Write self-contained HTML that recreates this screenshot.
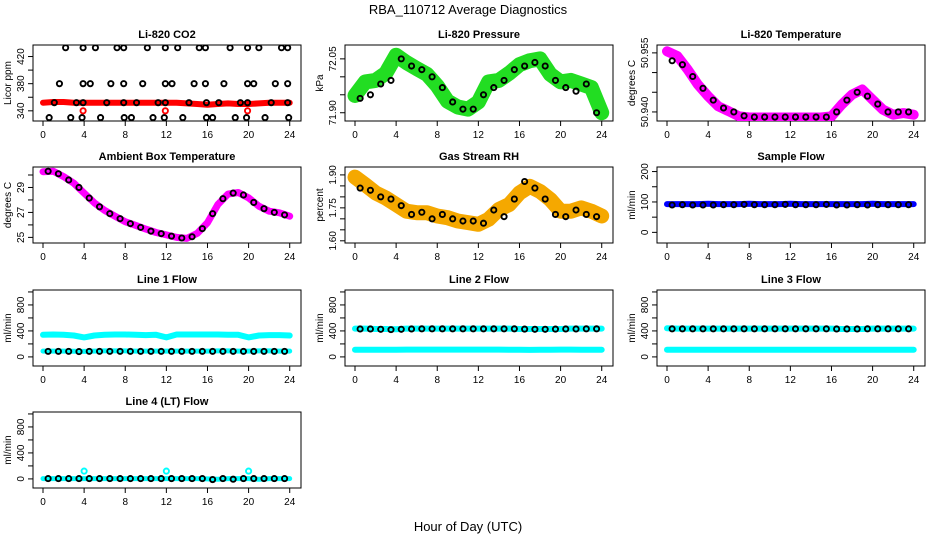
<!DOCTYPE html>
<html><head><meta charset="utf-8"><style>
body{margin:0;background:#fff}
svg{display:block;font-family:"Liberation Sans",sans-serif}
</style></head><body>
<svg id="c" width="936" height="540" viewBox="0 0 936 540">
<text x="468" y="14" text-anchor="middle" font-size="13">RBA_110712  Average Diagnostics</text>
<text x="468" y="531" text-anchor="middle" font-size="13">Hour of Day (UTC)</text>
</svg>
<script>
const hours = [0,1,2,3,4,5,6,7,8,9,10,11,12,13,14,15,16,17,18,19,20,21,22,23,24];
const halfHours = [0.5,1.5,2.5,3.5,4.5,5.5,6.5,7.5,8.5,9.5,10.5,11.5,12.5,13.5,14.5,15.5,16.5,17.5,18.5,19.5,20.5,21.5,22.5,23.5];
const xTicks = [0,4,8,12,16,20,24];

const co2Band = [352,353,353,352,352,352,352,352,352,352,352,352,352,352,351,350,349,350,351,350,350,351,352,352,352];
const co2BlackTimes = [2.2,3.9,5.1,7.2,7.85,10.15,11.9,13.1,15.2,15.8,18.2,19.9,21.0,23.2,23.8,
 1.6,3.9,4.6,6.6,7.85,9.7,11.9,12.55,14.7,15.8,17.6,19.9,20.5,22.6,23.8,
 1.1,3.25,3.9,6.2,7.85,9.1,11.2,11.9,14.2,15.9,17.1,19.2,19.9,22.2,23.8,
 0.6,2.7,3.8,5.6,7.9,8.6,10.7,11.8,13.6,15.9,16.5,18.7,19.8,21.6,23.9];
const co2BlackVals = [433,433,433,433,433,433,433,433,433,433,433,433,433,433,433,
 380,380,380,380,380,380,380,380,380,380,380,380,380,380,380,
 352,352,352,352,352,352,352,352,352,352,352,352,352,352,352,
 330,330,330,330,330,330,330,330,330,330,330,330,330,330,330];
const co2RedTimes = [3.9,11.9,19.9];
const co2RedVals = [340,340,340];

const pressBand = [71.948,71.986,71.99,72.01,72.06,72.04,72.023,72.007,71.975,71.932,71.916,71.91,71.93,71.986,71.99,72.01,72.034,72.045,72.05,72.007,71.986,71.99,71.98,71.97,71.90];
const pressBlack = [71.94,71.95,71.98,71.99,72.05,72.03,72.02,72.00,71.97,71.93,71.91,71.91,71.95,71.97,71.99,72.02,72.03,72.04,72.03,71.99,71.97,71.96,71.98,71.90];

const tempBand = [50.9554,50.9542,50.9508,50.947,50.944,50.9414,50.9402,50.9389,50.9386,50.9386,50.9386,50.9386,50.9386,50.9386,50.9386,50.9386,50.9389,50.9419,50.9444,50.9457,50.9431,50.9406,50.9393,50.9397,50.9393];
const tempBlack = [50.953,50.952,50.949,50.946,50.943,50.941,50.940,50.939,50.9387,50.9387,50.9387,50.9387,50.9387,50.9387,50.9387,50.9387,50.940,50.943,50.945,50.944,50.942,50.940,50.940,50.940];

const ambBand = [30.26,30.3,29.87,29.34,28.55,27.76,27.16,26.7,26.26,25.97,25.66,25.39,25.2,25.0,24.92,25.32,26.18,27.63,28.47,28.6,28.16,27.5,27.1,26.97,26.7];
const ambBlack = [30.3,30.1,29.6,29.0,28.15,27.45,26.9,26.5,26.1,25.8,25.5,25.3,25.1,24.95,25.05,25.7,26.9,28.1,28.55,28.4,27.8,27.3,27.0,26.8];

const rhBand = [1.89,1.855,1.818,1.795,1.765,1.735,1.728,1.728,1.713,1.705,1.69,1.683,1.675,1.698,1.743,1.765,1.818,1.848,1.825,1.788,1.735,1.735,1.75,1.735,1.713];
const rhBlack = [1.84,1.83,1.80,1.79,1.76,1.72,1.73,1.70,1.72,1.70,1.69,1.69,1.68,1.74,1.71,1.79,1.87,1.84,1.79,1.72,1.71,1.74,1.72,1.71];

const sampleBand = [93,93,93,93,94,93,93,93,94,93,93,93,94,93,93,93,93,93,93,93,94,93,93,93,93];
const sampleBlack = [90,91,90,90,90,91,91,92,91,91,91,92,91,91,91,92,90,90,91,90,91,91,91,91];

const line1Upper = [340,345,340,330,300,330,340,345,345,340,335,340,300,345,345,345,345,345,340,340,300,330,335,335,330];
const line1Lower = [90,90,90,88,85,90,92,92,92,90,90,90,90,90,90,90,90,92,92,90,90,92,92,90,90];
const line1Black = [85,85,85,82,85,85,85,85,85,85,85,85,85,85,85,85,85,85,85,85,85,85,85,85];

const line2Upper = [435,435,430,430,425,435,435,435,435,435,435,435,435,435,435,435,430,430,430,430,430,435,435,435,435];
const line2Lower = [110,110,110,110,110,112,112,112,112,112,112,112,112,112,112,110,110,108,110,110,112,112,110,110,110];
const line2Black = [430,430,425,420,425,430,432,432,432,432,432,432,432,432,432,432,428,425,425,428,430,430,432,432];

const line3Upper = [440,435,435,435,435,435,435,435,435,435,435,435,435,435,435,435,435,430,430,430,435,435,435,435,435];
const line3Lower = [110,110,110,110,110,110,110,110,110,110,110,110,110,110,110,110,110,110,110,110,110,110,110,110,110];
const line3Black = [432,432,432,432,432,432,432,432,432,432,432,432,432,432,432,432,430,430,430,432,432,432,432,432];

const line4Band = [5,5,5,5,5,5,5,5,5,5,5,5,5,5,5,5,0,-5,5,5,5,-5,5,5,5];
const line4Black = [5,5,5,5,5,5,5,5,5,5,5,5,5,5,5,5,-10,5,-5,5,5,5,5,5];
const line4OutTimes = [4,12,20];
const line4OutVals = [120,120,120];

const NS='http://www.w3.org/2000/svg';
const svg=document.getElementById('c');
const COLS=[33,345,657], ROWS=[45,167,290,412], PW=268, PH=76;
function el(tag,attrs,parent){const e=document.createElementNS(NS,tag);for(const k in attrs)e.setAttribute(k,attrs[k]);(parent||svg).appendChild(e);return e;}

function panel(cfg){
  const L=COLS[cfg.col], T=ROWS[cfg.row], B=T+PH;
  const g=el('g',{});
  
  
  const xs=h=>L+10+h*10.28;
  const ys=v=>B-(v-cfg.ymin)/(cfg.ymax-cfg.ymin)*PH;
  const t=el('text',{x:L+PW/2,y:T-7,'text-anchor':'middle','font-size':11,'font-weight':'bold'},g);
  t.textContent=cfg.title;
  
  
  const box=el('rect',{x:L,y:T,width:PW,height:PH,fill:'none',stroke:'#000','stroke-width':1},g);
  
  
  xTicks.forEach(v=>{
    el('line',{x1:xs(v),x2:xs(v),y1:B,y2:B+5,stroke:'#000'},g);
    const tl=el('text',{x:xs(v),y:B+17,'text-anchor':'middle','font-size':10},g);
    tl.textContent=v;
    
    
  });
  cfg.yticks.forEach(v=>{el('line',{x1:L,x2:L-5,y1:ys(v),y2:ys(v),stroke:'#000'},g);});
  cfg.ylabels.forEach(v=>{
    const yl=el('text',{transform:`translate(${L-9},${ys(v)}) rotate(-90)`,'text-anchor':'middle','font-size':10},g);
    yl.textContent=cfg.fmt?cfg.fmt(v):v;
    
    
  });
  const yt=el('text',{transform:`translate(${L-22},${T+PH/2}) rotate(-90)`,'text-anchor':'middle','font-size':10},g);
  yt.textContent=cfg.ylab;
  
  
  const clip=el('clipPath',{id:'cl'+cfg.name},g);
  el('rect',{x:L,y:T,width:PW,height:PH},clip);
  const data=el('g',{'clip-path':`url(#cl${cfg.name})`},g);
  (cfg.bands||[]).forEach(bd=>{
    const pts=hours.map((h,i)=>xs(h).toFixed(1)+','+ys(bd.vals[i]).toFixed(1)).join(' ');
    const pl=el('polyline',{points:pts,fill:'none',stroke:bd.color,'stroke-width':bd.w,'stroke-linejoin':'round','stroke-linecap':'round'},data);
    
    
  });
  (cfg.points||[]).forEach(ps=>{
    ps.vals.forEach((v,i)=>{
      const c=el('circle',{cx:xs(ps.times[i]),cy:ys(v),r:ps.r||2.6,fill:'none',stroke:ps.color,'stroke-width':ps.sw||1.9},data);
      
      
    });
  });
}

const flowTicks=[0,200,400,600,800,1000], flowLabels=[0,400,800];
panel({name:'co2-panel',col:0,row:0,title:'Li-820 CO2',ylab:'Licor ppm',ymin:325,ymax:437,yticks:[340,360,380,400,420],ylabels:[340,380,420],
  bands:[{vals:co2Band,color:'#ff0000',w:6}],
  points:[{times:co2BlackTimes,vals:co2BlackVals,color:'#000'},{times:co2RedTimes,vals:co2RedVals,color:'#ff0000'}]});
panel({name:'pressure-panel',col:1,row:0,title:'Li-820 Pressure',ylab:'kPa',ymin:71.877,ymax:72.0886,yticks:[71.90,71.95,72.00,72.05],ylabels:[71.90,72.05],fmt:v=>v.toFixed(2),
  bands:[{vals:pressBand,color:'#22dd22',w:15}],
  points:[{times:halfHours,vals:pressBlack,color:'#000'}]});
panel({name:'temperature-panel',col:2,row:0,title:'Li-820 Temperature',ylab:'degrees C',ymin:50.9377,ymax:50.957,yticks:[50.940,50.945,50.950,50.955],ylabels:[50.940,50.955],fmt:v=>v.toFixed(3),
  bands:[{vals:tempBand,color:'#ff00ff',w:10}],
  points:[{times:halfHours,vals:tempBlack,color:'#000'}]});
panel({name:'ambient-panel',col:0,row:1,title:'Ambient Box Temperature',ylab:'degrees C',ymin:24.55,ymax:30.64,yticks:[25,26,27,28,29,30],ylabels:[25,27,29],
  bands:[{vals:ambBand,color:'#ff00ff',w:7}],
  points:[{times:halfHours,vals:ambBlack,color:'#000'}]});
panel({name:'rh-panel',col:1,row:1,title:'Gas Stream RH',ylab:'percent',ymin:1.59,ymax:1.936,yticks:[1.60,1.65,1.70,1.75,1.80,1.85,1.90],ylabels:[1.60,1.75,1.90],fmt:v=>v.toFixed(2),
  bands:[{vals:rhBand,color:'#f5a800',w:15}],
  points:[{times:halfHours,vals:rhBlack,color:'#000'}]});
panel({name:'sample-flow-panel',col:2,row:1,title:'Sample Flow',ylab:'ml/min',ymin:-35,ymax:215,yticks:[0,50,100,150,200],ylabels:[0,100,200],
  bands:[{vals:sampleBand,color:'#0000ff',w:6}],
  points:[{times:halfHours,vals:sampleBlack,color:'#000'}]});
panel({name:'line1-flow-panel',col:0,row:2,title:'Line 1 Flow',ylab:'ml/min',ymin:-140,ymax:1030,yticks:flowTicks,ylabels:flowLabels,
  bands:[{vals:line1Upper,color:'#00ffff',w:6},{vals:line1Lower,color:'#00ffff',w:5}],
  points:[{times:halfHours,vals:line1Black,color:'#000'}]});
panel({name:'line2-flow-panel',col:1,row:2,title:'Line 2 Flow',ylab:'ml/min',ymin:-140,ymax:1030,yticks:flowTicks,ylabels:flowLabels,
  bands:[{vals:line2Upper,color:'#00ffff',w:6},{vals:line2Lower,color:'#00ffff',w:6}],
  points:[{times:halfHours,vals:line2Black,color:'#000'}]});
panel({name:'line3-flow-panel',col:2,row:2,title:'Line 3 Flow',ylab:'ml/min',ymin:-140,ymax:1030,yticks:flowTicks,ylabels:flowLabels,
  bands:[{vals:line3Upper,color:'#00ffff',w:6},{vals:line3Lower,color:'#00ffff',w:6}],
  points:[{times:halfHours,vals:line3Black,color:'#000'}]});
panel({name:'line4-flow-panel',col:0,row:3,title:'Line 4 (LT) Flow',ylab:'ml/min',ymin:-140,ymax:1030,yticks:flowTicks,ylabels:flowLabels,
  bands:[{vals:line4Band,color:'#00ffff',w:5}],
  points:[{times:halfHours,vals:line4Black,color:'#000'},{times:line4OutTimes,vals:line4OutVals,color:'#00ffff'}]});
</script>
</body></html>
